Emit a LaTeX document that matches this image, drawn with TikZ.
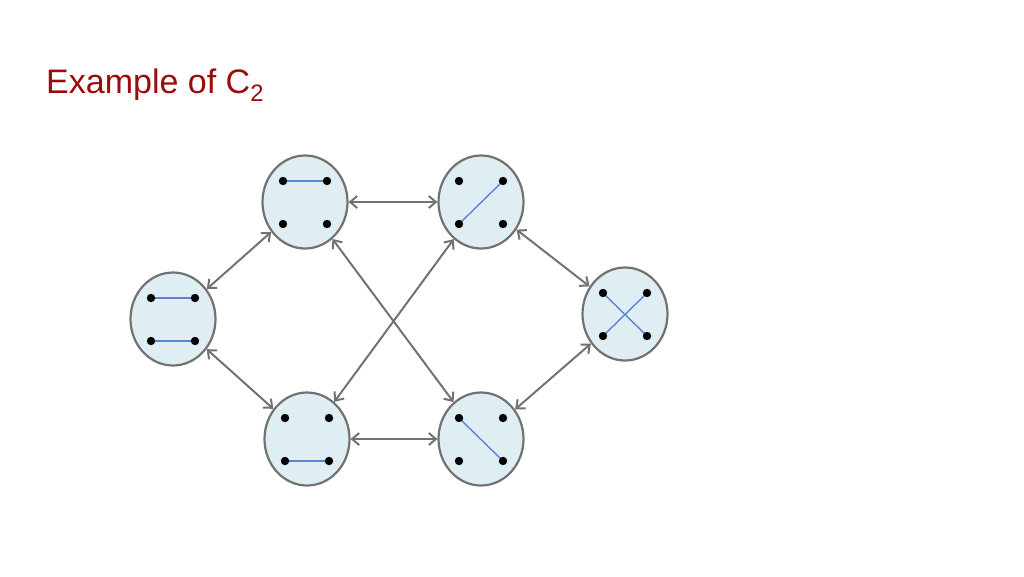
\documentclass[tikz,border=0pt]{standalone}
\usepackage{fontspec}
\setmainfont{Liberation Sans}
\usetikzlibrary{shapes.geometric,arrows.meta}
\definecolor{titlered}{HTML}{9A0C0C}
\definecolor{statefill}{HTML}{DFEEF3}
\definecolor{stateedge}{HTML}{727272}
\definecolor{pairline}{HTML}{5B84D6}
\tikzset{
  state/.style={ellipse, draw=stateedge, fill=statefill, line width=2.2pt,
    minimum width=85pt, minimum height=93pt, inner sep=0pt},
  link/.style={draw=stateedge, line width=2pt,
    {Straight Barb[length=7pt,width=12pt]}-{Straight Barb[length=7pt,width=12pt]}},
  pair/.style={draw=pairline, line width=1.4pt},
  dotmark/.style={fill=black}
}
\begin{document}
\begin{tikzpicture}[x=1pt,y=-1pt]
\useasboundingbox (0,0) rectangle (1024,576);
\node[anchor=base west, text=titlered, font=\fontsize{34}{40}\selectfont, inner sep=0pt] (title) at (46,93) {Example of C\textsubscript{2}};
\node[state] (A) at (305,202) {};
\node[state] (B) at (481,202) {};
\node[state] (L) at (173,319) {};
\node[state] (R) at (625,314) {};
\node[state] (C) at (307,439) {};
\node[state] (D) at (481,439) {};
\foreach \n in {A,B,L,R,C,D}{
  \coordinate (\n1) at ([shift={(-22,-21)}]\n.center);
  \coordinate (\n2) at ([shift={(22,-21)}]\n.center);
  \coordinate (\n3) at ([shift={(-22,22)}]\n.center);
  \coordinate (\n4) at ([shift={(22,22)}]\n.center);
}
\draw[pair] (A1) -- (A2);
\draw[pair] (B3) -- (B2);
\draw[pair] (L1) -- (L2);
\draw[pair] (L3) -- (L4);
\draw[pair] (R1) -- (R4);
\draw[pair] (R2) -- (R3);
\draw[pair] (C3) -- (C4);
\draw[pair] (D1) -- (D4);
\foreach \n in {A,B,L,R,C,D}{
  \foreach \k in {1,2,3,4}{
    \fill[dotmark] (\n\k) circle (4.2pt);
  }
}
\draw[link] (A) -- (B);
\draw[link] (C) -- (D);
\draw[link] (L) -- (A);
\draw[link] (L) -- (C);
\draw[link] (B) -- (R);
\draw[link] (D) -- (R);
\draw[link] (A) -- (D);
\draw[link] (C) -- (B);
\end{tikzpicture}
\end{document}
